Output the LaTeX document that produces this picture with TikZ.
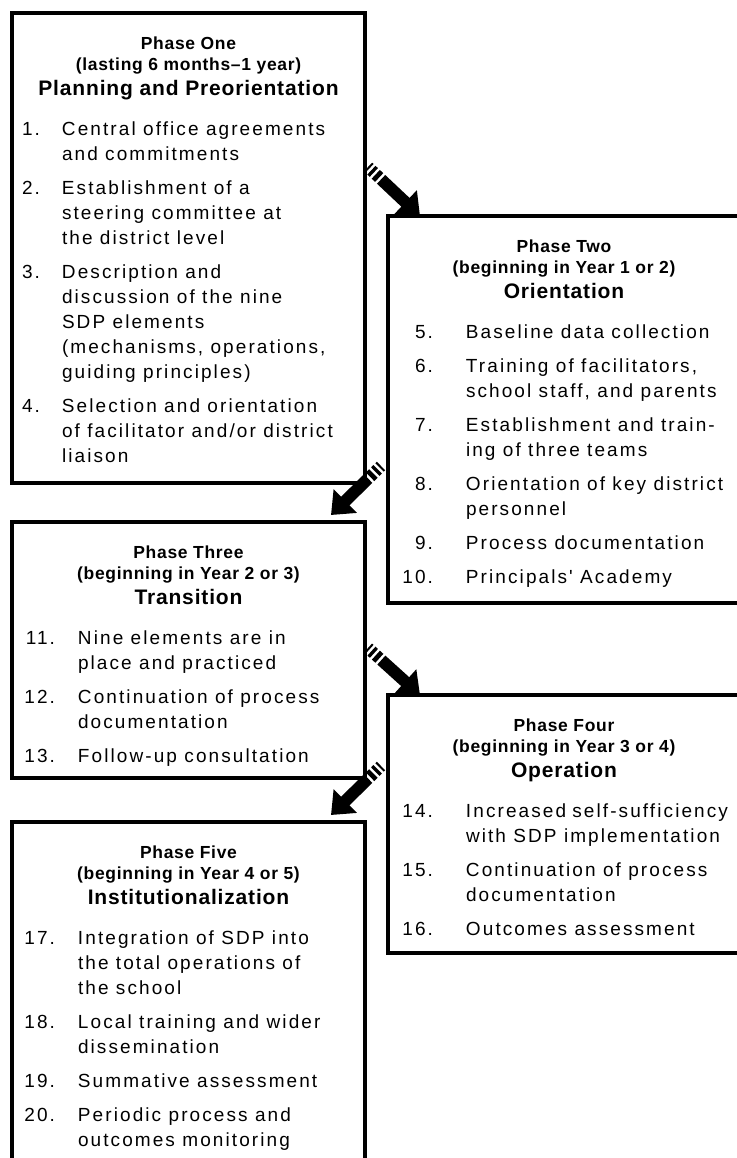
\documentclass[tikz,border=0pt]{standalone}
\usepackage{fontspec}
\setmainfont{Liberation Sans}
\newfontfamily\bodyfont[LetterSpace=11]{Liberation Sans}
\newfontfamily\headfont[LetterSpace=4]{Liberation Sans}
\usetikzlibrary{arrows.meta,calc}
\newdimen\pxu \pxu=0.75pt
\newdimen\numw \newdimen\txtind
\newcommand\stepitem[2]{\par\vspace{9\pxu}{\let\\\newline\hangindent=\txtind\hangafter=1\noindent\makebox[\numw][r]{#1}\hspace{\dimexpr\txtind-\numw\relax}#2\par}}
\newcommand\phasecard[8]{%
  \parbox[t][#2\pxu][t]{\dimexpr#1\pxu-24\pxu\relax}{%
    \lineskiplimit=-\maxdimen\parskip=0pt\parindent=0pt
    \numw=#3\pxu\txtind=#4\pxu
    {\centering\headfont\bfseries\fontsize{13.1}{15.75}\selectfont
      \baselineskip=21\pxu\rule{0pt}{36\pxu}#5\par#6\par}
    {\centering\headfont\bfseries\fontsize{15.75}{18.75}\selectfont
      \baselineskip=25\pxu #7\par}
    \vspace{6\pxu}
    {\raggedright\bodyfont\fontsize{14.25}{18.75}\selectfont
      \baselineskip=25\pxu #8\par}}}
\begin{document}
\begin{tikzpicture}[x=0.75pt,y=-0.75pt]
  \tikzset{phasebox/.style={draw,line width=2.6pt,inner xsep=9pt,inner ysep=0pt,outer sep=0pt,anchor=north west},
    phasearrow/.style={line width=9pt,line cap=butt,
      dash pattern=on 1.5pt off 2pt on 2.5pt off 2pt on 3.5pt off 2pt on 200pt off 1pt,
      -{Triangle[width=24pt,length=15pt]}}
  }
  \useasboundingbox (0,0) rectangle (737,1158);
  \node[phasebox] (one) at (12,13) {\phasecard{353}{470}{16}{38}{Phase One}{(lasting 6 months\textendash 1 year)}{Planning and Preorientation}{%
      \stepitem{1.}{Central office agreements\\and commitments}
      \stepitem{2.}{Establishment of a\\steering committee at\\the district level}
      \stepitem{3.}{Description and\\discussion of the nine\\SDP elements\\(mechanisms, operations,\\guiding principles)}
      \stepitem{4.}{Selection and orientation\\of facilitator and/or district\\liaison}}};
  \node[phasebox] (two) at (388,216) {\phasecard{352}{387}{33}{66}{Phase Two}{(beginning in Year 1 or 2)}{Orientation}{%
      \stepitem{5.}{Baseline data collection}
      \stepitem{6.}{Training of facilitators,\\school staff, and parents}
      \stepitem{7.}{Establishment and train-\\ing of three teams}
      \stepitem{8.}{Orientation of key district\\personnel}
      \stepitem{9.}{Process documentation}
      \stepitem{10.}{Principals' Academy}}};
  \node[phasebox] (three) at (12,522) {\phasecard{353}{256}{31}{54}{Phase Three}{(beginning in Year 2 or 3)}{Transition}{%
      \stepitem{11.}{Nine elements are in\\place and practiced}
      \stepitem{12.}{Continuation of process\\documentation}
      \stepitem{13.}{Follow-up consultation}}};
  \node[phasebox] (four) at (388,695) {\phasecard{352}{258}{33}{66}{Phase Four}{(beginning in Year 3 or 4)}{Operation}{%
      \stepitem{14.}{Increased self-sufficiency\\with SDP implementation}
      \stepitem{15.}{Continuation of process\\documentation}
      \stepitem{16.}{Outcomes assessment}}};
  \node[phasebox] (five) at (12,822) {\phasecard{353}{360}{31}{54}{Phase Five}{(beginning in Year 4 or 5)}{Institutionalization}{%
      \stepitem{17.}{Integration of SDP into\\the total operations of\\the school}
      \stepitem{18.}{Local training and wider\\dissemination}
      \stepitem{19.}{Summative assessment}
      \stepitem{20.}{Periodic process and\\outcomes monitoring}}};
  \coordinate (s1) at ($(one.north east)+(3,154)$);
  \coordinate (e1) at ($(two.north west)+(32,0)$);
  \coordinate (s2) at ($(one.south east)+(16,-17)$);
  \coordinate (e2) at ($(three.north east)+(-34,-7)$);
  \coordinate (s3) at ($(three.north east)+(3,126)$);
  \coordinate (e3) at ($(four.north west)+(32,0)$);
  \coordinate (s4) at ($(three.south east)+(16,-12)$);
  \coordinate (e4) at ($(five.north east)+(-34,-7)$);
  \foreach \a in {1,...,4}{
    \draw[phasearrow] (s\a) -- (e\a);
  }
\end{tikzpicture}
\end{document}
